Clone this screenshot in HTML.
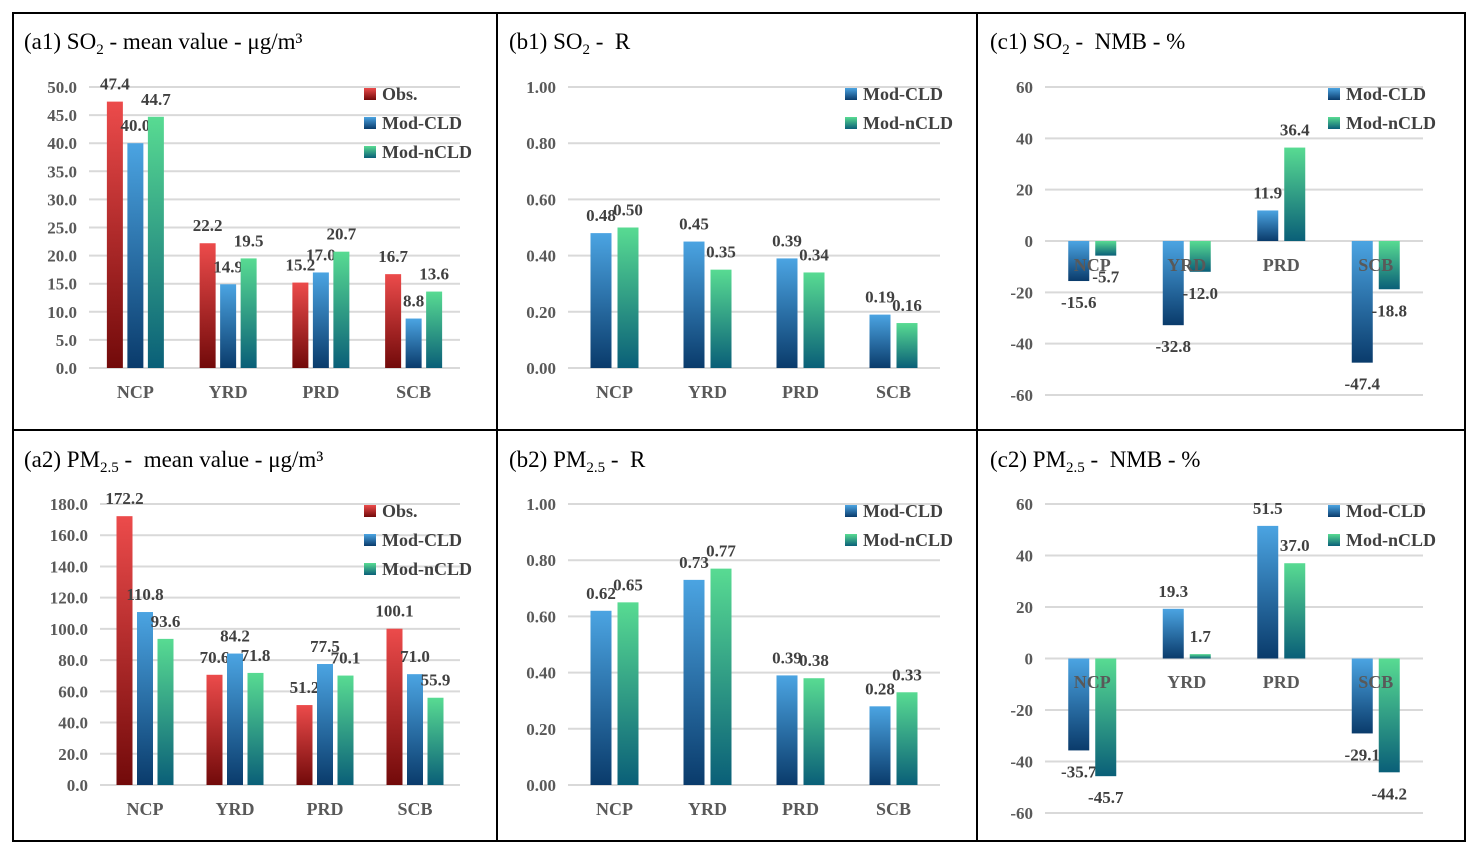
<!DOCTYPE html>
<html><head><meta charset="utf-8"><style>
html,body{margin:0;padding:0;background:#fff;width:1478px;height:855px;overflow:hidden}
svg{display:block}
text{font-family:"Liberation Serif",serif;white-space:pre}
</style></head><body>
<svg id="fig" width="1478" height="855" xmlns="http://www.w3.org/2000/svg">
<defs>
<linearGradient id="gObs" x1="0" y1="0" x2="0" y2="1"><stop offset="0" stop-color="#ec4b4b"/><stop offset="1" stop-color="#720a0a"/></linearGradient>
<linearGradient id="gCLD" x1="0" y1="0" x2="0" y2="1"><stop offset="0" stop-color="#4ba4e2"/><stop offset="1" stop-color="#0a3b6b"/></linearGradient>
<linearGradient id="gnCLD" x1="0" y1="0" x2="0" y2="1"><stop offset="0" stop-color="#58db92"/><stop offset="1" stop-color="#0a5f78"/></linearGradient>
</defs>
<g id="frame" fill="none" stroke="#000" stroke-width="2">
<rect x="13" y="13" width="1452" height="828"/>
<line x1="497" y1="13" x2="497" y2="841"/>
<line x1="977" y1="13" x2="977" y2="841"/>
<line x1="13" y1="430" x2="1465" y2="430"/>
</g>
</svg>
<script>
const categories = ["NCP","YRD","PRD","SCB"];
const a1Obs = [47.4,22.2,15.2,16.7];
const a1CLD = [40.0,14.9,17.0,8.8];
const a1nCLD = [44.7,19.5,20.7,13.6];
const a2Obs = [172.2,70.6,51.2,100.1];
const a2CLD = [110.8,84.2,77.5,71.0];
const a2nCLD = [93.6,71.8,70.1,55.9];
const b1CLD = [0.48,0.45,0.39,0.19];
const b1nCLD = [0.50,0.35,0.34,0.16];
const b2CLD = [0.62,0.73,0.39,0.28];
const b2nCLD = [0.65,0.77,0.38,0.33];
const c1CLD = [-15.6,-32.8,11.9,-47.4];
const c1nCLD = [-5.7,-12.0,36.4,-18.8];
const c2CLD = [-35.7,19.3,51.5,-29.1];
const c2nCLD = [-45.7,1.7,37.0,-44.2];
const ticksA1 = [0,5,10,15,20,25,30,35,40,45,50];
const ticksA2 = [0,20,40,60,80,100,120,140,160,180];
const ticksB = [0,0.2,0.4,0.6,0.8,1.0];
const ticksC = [-60,-40,-20,0,20,40,60];

const svg = document.getElementById('fig');
const NS = 'http://www.w3.org/2000/svg';
function mk(tag, attrs, parent){const e=document.createElementNS(NS,tag);for(const k in attrs)e.setAttribute(k,attrs[k]);(parent||svg).appendChild(e);return e;}

function panel(p){
  const g = mk('g',{});
  
  
  const y = v => p.yb - (v - p.ymin)/(p.ymax - p.ymin)*(p.yb - p.yt);
  const cw = (p.xr - p.xl)/categories.length;
  const t = mk('text',{x:p.tx,y:p.ty,'font-size':23,fill:'#000'},g);
  
  
  t.innerHTML = p.title;
  p.ticks.forEach(v=>{
    const l = mk('line',{x1:p.xl,x2:p.xr,y1:y(v),y2:y(v),stroke:'#d9d9d9','stroke-width':2},g);
    
    
    const tt = mk('text',{x:p.xl-12,y:y(v)+6,'text-anchor':'end','font-size':17,'font-weight':'bold',fill:'#595959'},g);
    
    
    tt.textContent = v.toFixed(p.dec);
  });
  const n = p.series.length;
  const groupW = n*p.bw + (n-1)*p.gap;
  categories.forEach((c,i)=>{
    const cx = p.xl + cw*(i+0.5);
    p.series.forEach((s,j)=>{
      const v = s.data[i];
      const x0 = cx - groupW/2 + j*(p.bw+p.gap);
      const top = Math.min(y(v), y(0)), h = Math.abs(y(v)-y(0));
      const r = mk('rect',{x:x0,y:top,width:p.bw,height:h,fill:'url(#'+s.grad+')'},g);
      
      
      const lt = mk('text',{x:x0+p.bw/2,y: v>=0 ? y(v)-12 : y(v)+27,'text-anchor':'middle','font-size':17,'font-weight':'bold',fill:'#404040'},g);
      
      
      lt.textContent = v.toFixed(p.vdec);
    });
    const cl = mk('text',{x:cx,y:p.catY,'text-anchor':'middle','font-size':18,'font-weight':'bold',fill:'#595959'},g);
    
    
    cl.textContent = c;
  });
  p.series.forEach((s,j)=>{
    const ly = p.ly + j*29;
    const lr = mk('rect',{x:p.lx,y:ly-12,width:12,height:12,fill:'url(#'+s.grad+')'},g);
    
    
    const lt = mk('text',{x:p.lx+18,y:ly,'font-size':18,'font-weight':'bold',fill:'#404040'},g);
    
    
    lt.textContent = s.label;
  });
}
const S = (key,label,grad,data)=>({key,label,grad,data});
panel({name:'panel-a1',title:'(a1) SO<tspan font-size="15" dy="5">2</tspan><tspan dy="-5"> - mean value - μg/m³</tspan>',tx:24,ty:49,
  xl:89,xr:460,yt:87,yb:368,ymin:0,ymax:50,ticks:ticksA1,dec:1,vdec:1,bw:16,gap:4.5,catY:398,lx:364,ly:100,
  series:[S('obs','Obs.','gObs',a1Obs),S('cld','Mod-CLD','gCLD',a1CLD),S('ncld','Mod-nCLD','gnCLD',a1nCLD)]});
panel({name:'panel-a2',title:'(a2) PM<tspan font-size="15" dy="5">2.5</tspan><tspan dy="-5"> -  mean value - μg/m³</tspan>',tx:24,ty:467,
  xl:100,xr:460,yt:504,yb:785,ymin:0,ymax:180,ticks:ticksA2,dec:1,vdec:1,bw:16,gap:4.5,catY:815,lx:364,ly:517,
  series:[S('obs','Obs.','gObs',a2Obs),S('cld','Mod-CLD','gCLD',a2CLD),S('ncld','Mod-nCLD','gnCLD',a2nCLD)]});
panel({name:'panel-b1',title:'(b1) SO<tspan font-size="15" dy="5">2</tspan><tspan dy="-5"> -  R</tspan>',tx:509,ty:49,
  xl:568,xr:940,yt:87,yb:368,ymin:0,ymax:1,ticks:ticksB,dec:2,vdec:2,bw:21,gap:6,catY:398,lx:845,ly:100,
  series:[S('cld','Mod-CLD','gCLD',b1CLD),S('ncld','Mod-nCLD','gnCLD',b1nCLD)]});
panel({name:'panel-b2',title:'(b2) PM<tspan font-size="15" dy="5">2.5</tspan><tspan dy="-5"> -  R</tspan>',tx:509,ty:467,
  xl:568,xr:940,yt:504,yb:785,ymin:0,ymax:1,ticks:ticksB,dec:2,vdec:2,bw:21,gap:6,catY:815,lx:845,ly:517,
  series:[S('cld','Mod-CLD','gCLD',b2CLD),S('ncld','Mod-nCLD','gnCLD',b2nCLD)]});
panel({name:'panel-c1',title:'(c1) SO<tspan font-size="15" dy="5">2</tspan><tspan dy="-5"> -  NMB - %</tspan>',tx:990,ty:49,
  xl:1045,xr:1423,yt:87,yb:395,ymin:-60,ymax:60,ticks:ticksC,dec:0,vdec:1,bw:21,gap:6,catY:271,lx:1328,ly:100,
  series:[S('cld','Mod-CLD','gCLD',c1CLD),S('ncld','Mod-nCLD','gnCLD',c1nCLD)]});
panel({name:'panel-c2',title:'(c2) PM<tspan font-size="15" dy="5">2.5</tspan><tspan dy="-5"> -  NMB - %</tspan>',tx:990,ty:467,
  xl:1045,xr:1423,yt:504,yb:813,ymin:-60,ymax:60,ticks:ticksC,dec:0,vdec:1,bw:21,gap:6,catY:688,lx:1328,ly:517,
  series:[S('cld','Mod-CLD','gCLD',c2CLD),S('ncld','Mod-nCLD','gnCLD',c2nCLD)]});
</script>
</body></html>
